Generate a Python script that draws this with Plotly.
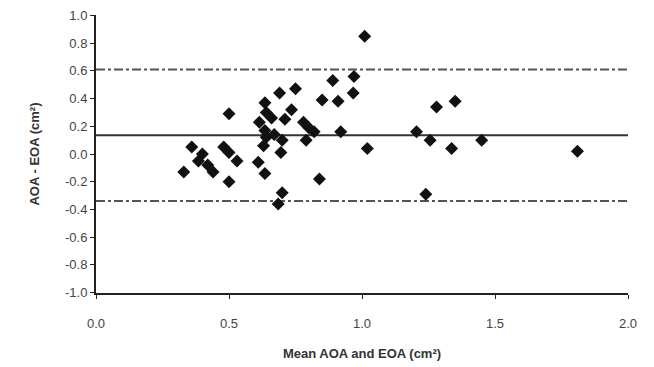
import plotly.graph_objects as go

mean_size = [0.33, 0.36, 0.40, 0.385, 0.42, 0.44, 0.48, 0.50, 0.53, 0.50, 0.50,
             0.61, 0.635, 0.635, 0.64, 0.66, 0.614, 0.69, 0.75, 0.735, 0.71,
             0.635, 0.64, 0.67, 0.70, 0.63, 0.695, 0.78, 0.80, 0.82, 0.79,
             0.84, 0.70, 0.685, 0.85, 0.91, 0.89, 0.92, 1.01, 0.97, 0.967,
             1.02, 1.205, 1.28, 1.35, 1.256, 1.337, 1.45, 1.24, 1.81]
difference = [-0.13, 0.05, 0.00, -0.05, -0.08, -0.13, 0.05, 0.01, -0.05, 0.29, -0.20,
              -0.06, -0.14, 0.37, 0.30, 0.26, 0.23, 0.44, 0.47, 0.32, 0.25,
              0.17, 0.12, 0.14, 0.10, 0.06, 0.01, 0.23, 0.19, 0.16, 0.10,
              -0.18, -0.28, -0.36, 0.39, 0.38, 0.53, 0.16, 0.85, 0.56, 0.44,
              0.04, 0.16, 0.34, 0.38, 0.10, 0.04, 0.10, -0.29, 0.02]

bias = 0.135
upper_loa = 0.61
lower_loa = -0.34
line_x = [0.0, 2.0]

y_ticks = [1.0, 0.8, 0.6, 0.4, 0.2, 0.0, -0.2, -0.4, -0.6, -0.8, -1.0]
y_tick_text = ["1.0", "0.8", "0.6", "0.4", "0.2", "0.0", "-0.2", "-0.4", "-0.6", "-0.8", "-1.0"]
x_ticks = [0.0, 0.5, 1.0, 1.5, 2.0]
x_tick_text = ["0.0", "0.5", "1.0", "1.5", "2.0"]

fig = go.Figure()
fig.add_trace(go.Scatter(x=line_x, y=[upper_loa, upper_loa], mode="lines",
                         line=dict(color="#555555", width=2, dash="dashdot"),
                         showlegend=False, hoverinfo="skip"))
fig.add_trace(go.Scatter(x=line_x, y=[lower_loa, lower_loa], mode="lines",
                         line=dict(color="#555555", width=2, dash="dashdot"),
                         showlegend=False, hoverinfo="skip"))
fig.add_trace(go.Scatter(x=line_x, y=[bias, bias], mode="lines",
                         line=dict(color="#333333", width=2),
                         showlegend=False, hoverinfo="skip"))
fig.add_trace(go.Scatter(x=mean_size, y=difference, mode="markers",
                         marker=dict(symbol="diamond", size=10, color="#111111"),
                         showlegend=False))

fig.update_layout(
    width=654, height=367,
    margin=dict(l=88, r=34, t=7, b=82),
    paper_bgcolor="white", plot_bgcolor="white",
    font=dict(family="Liberation Sans, Arial, sans-serif", size=13, color="#333333"),
)
fig.update_xaxes(range=[0, 2.0], tickvals=x_ticks, ticktext=x_tick_text,
                 automargin=False,
                 showgrid=False, zeroline=False, showline=True, linecolor="#222222",
                 linewidth=2, ticks="outside", ticklen=4, tickcolor="#222222",
                 ticklabelstandoff=13,
                 tickfont=dict(size=13, color="#444444"),
                 title=dict(text="<b>Mean AOA and EOA (cm²)</b>", font=dict(size=13, color="#333333"),
                            standoff=19))
fig.update_yaxes(range=[-1.003, 1.003], tickvals=y_ticks, ticktext=y_tick_text,
                 automargin=False,
                 showgrid=False, zeroline=False, showline=True, linecolor="#222222",
                 linewidth=2, ticks="outside", ticklen=4, tickcolor="#222222",
                 ticklabeloverflow="allow",
                 tickfont=dict(size=13, color="#444444"),
                 title=dict(text="<b>AOA - EOA (cm²)</b>", font=dict(size=13, color="#333333"),
                            standoff=22))

fig.write_html("out.html")
